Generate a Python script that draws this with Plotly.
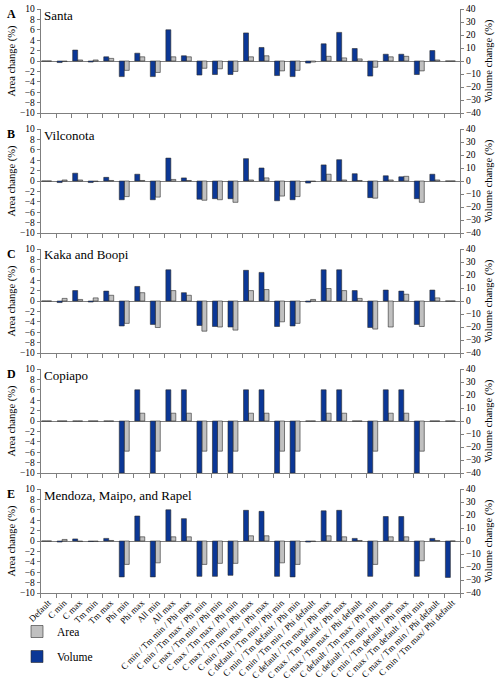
import plotly.graph_objects as go

categories = [
    "Default", "C min", "C max", "Tm min", "Tm max", "Phi min", "Phi max", "All min", "All max",
    "C min / Tm min / Phi max", "C min / Tm max / Phi min", "C max / Tm min / Phi min",
    "C max / Tm max / Phi min", "C max / Tm min / Phi max", "C min / Tm max / Phi max",
    "C default / Tm min / Phi min", "C min / Tm default / Phi min", "C min / Tm min / Phi default",
    "C default / Tm max / Phi max", "C max / Tm default / Phi max", "C max / Tm max / Phi default",
    "C default / Tm max / Phi min", "C default / Tm min / Phi max", "C min / Tm default / Phi max",
    "C max / Tm default / Phi min", "C max / Tm min / Phi default", "C min / Tm max/ Phi default",
]

panel_letters = ["A", "B", "C", "D", "E"]
panel_names = ["Santa", "Vilconota", "Kaka and Boopi", "Copiapo", "Mendoza, Maipo, and Rapel"]

# Area change (%)
area_santa = [0, -0.1, 0.2, 0.2, 0.5, -1.8, 0.8, -2.2, 0.8, 0.8, -1.4, -1.5, -2.0, 0.8, 1.0,
              -1.9, -1.8, -0.2, 0.9, 0.6, 0.4, -1.2, 0.8, 0.9, -1.9, 0.2, 0]
area_vilconota = [0, 0.2, 0.2, -0.1, 0.1, -3.0, 0.1, -3.1, 0.3, 0.1, -3.7, -3.6, -4.1, 0.2, 0.6,
                  -2.9, -3.0, -0.1, 1.3, 0.2, 0.1, -3.3, 0.2, 0.9, -4.1, 0.2, 0]
area_kaka = [0, 0.5, 0.3, 0.6, 1.1, -4.3, 1.6, -5.1, 2.0, 1.1, -5.8, -5.0, -5.6, 2.0, 2.2,
             -4.0, -4.3, 0.3, 2.4, 2.0, 0.5, -5.4, -5.0, 1.3, -4.9, 0.6, 0]
area_copiapo = [0, 0, 0, 0, 0, -5.8, 1.5, -5.8, 1.5, 1.5, -5.8, -5.8, -5.8, 1.5, 1.5,
                -5.8, -5.8, 0, 1.5, 1.5, 0, -5.8, 1.5, 1.5, -5.8, 0, 0]
area_mendoza = [0, 0.3, -0.1, -0.1, 0.1, -4.5, 0.8, -4.2, 0.8, 0.8, -4.5, -4.3, -4.3, 1.0, 1.0,
                -4.2, -4.5, -0.1, 1.0, 0.8, 0.1, -4.5, 0.8, 0.8, -3.8, 0.1, 0]

# Volume change (%)
volume_santa = [0, -1.2, 8.4, -0.8, 3.2, -12, 6, -12, 24, 4, -10.8, -10.4, -10.4, 21.6, 10.4,
                -11.2, -12, -1.6, 13.2, 22, 9.6, -11.6, 5.2, 5.2, -10.4, 8, 0]
volume_vilconota = [0, -1.2, 6, -1.2, 2.8, -14.4, 5.2, -14.4, 17.6, 2.4, -14, -13.6, -13.6, 17.2, 10,
                    -15.2, -14.4, -1.6, 12.4, 16.4, 5.6, -12.8, 4, 3.2, -13.6, 5.2, 0]
volume_kaka = [0, -1.2, 8, -0.8, 7.6, -19.2, 11.2, -18, 24, 6.4, -18.8, -19.6, -20, 23.6, 22,
               -19.6, -19.2, -0.8, 24, 24, 8, -20.4, 8.4, 7.6, -18, 8.4, 0]
volume_copiapo = [0, 0, 0, 0, 0, -40, 24, -40, 24, 24, -40, -40, -40, 24, 24,
                  -40, -40, 0, 24, 24, 0, -40, 24, 24, -40, 0, 0]
volume_mendoza = [0, -0.8, 1.6, -0.4, 2, -27.6, 19.2, -27.6, 24, 17.2, -27.2, -27.2, -26.4, 23.6, 22.8,
                  -27.2, -27.6, -0.8, 23.2, 23.6, 2, -27.2, 18.8, 18.8, -27.2, 2, -28]

area_data = [area_santa, area_vilconota, area_kaka, area_copiapo, area_mendoza]
volume_data = [volume_santa, volume_vilconota, volume_kaka, volume_copiapo, volume_mendoza]

area_ticks = [-10, -8, -6, -4, -2, 0, 2, 4, 6, 8, 10]
volume_ticks = [-40, -30, -20, -10, 0, 10, 20, 30, 40]

# ---- styling / layout ----
W, H = 500, 687
FONT = "Liberation Serif"
AX = "#7f7f7f"
BLUE = "#0b3796"
GREY = "#c0c0c0"
EDGE = "#2b2b2b"
x_left, x_right = 40.7, 460.0
tops = [9, 129, 249, 369, 489]
ph = 104

fig = go.Figure()
layout = dict(
    width=W, height=H,
    margin=dict(l=0, r=0, t=0, b=0, autoexpand=False),
    paper_bgcolor="white", plot_bgcolor="white",
    font=dict(family=FONT, size=10, color="black"),
    barmode="overlay",
    showlegend=True,
    legend=dict(x=17 / W, y=1 - 617 / H, xanchor="left", yanchor="top",
                font=dict(family=FONT, size=11.5), tracegroupgap=6,
                bgcolor="rgba(0,0,0,0)", itemwidth=30),
)
annotations = []

for k in range(5):
    xa = f"x{k + 1}"
    yl = f"y{2 * k + 1}"
    yr = f"y{2 * k + 2}"
    top, bot = tops[k], tops[k] + ph
    dom_y = [1 - bot / H, 1 - top / H]

    fig.add_trace(go.Bar(
        x=categories, y=volume_data[k], xaxis=xa, yaxis=yr, name="Volume",
        marker=dict(color=BLUE, line=dict(color=EDGE, width=0.6)),
        width=0.32, offset=-0.44, legendgroup="vol", legendrank=2, showlegend=(k == 0),
    ))
    fig.add_trace(go.Bar(
        x=categories, y=area_data[k], xaxis=xa, yaxis=yl, name="Area",
        marker=dict(color=GREY, line=dict(color=EDGE, width=0.6)),
        width=0.32, offset=-0.12, legendgroup="area", legendrank=1, showlegend=(k == 0),
    ))

    last = (k == 4)
    layout[f"xaxis{k + 1}"] = dict(
        domain=[x_left / W, x_right / W], anchor=yl, type="category",
        categoryorder="array", categoryarray=categories, range=[-0.5, len(categories) - 0.5],
        tickson="boundaries", ticks="outside", ticklen=4, tickcolor=AX, tickwidth=1,
        showline=True, linecolor=AX, linewidth=1, showgrid=False, zeroline=False,
        showticklabels=last, tickangle=-45, tickfont=dict(family=FONT, size=9),
        automargin=False,
    )
    layout[f"yaxis{2 * k + 1}"] = dict(
        domain=dom_y, anchor=xa, range=[-10, 10], tickvals=area_ticks,
        ticks="outside", ticklen=3, tickcolor=AX, showline=True, linecolor=AX, linewidth=1,
        showgrid=False, zeroline=True, zerolinecolor=AX, zerolinewidth=1,
        tickfont=dict(family=FONT, size=9.5), automargin=False,
        title=dict(text="Area change (%)", font=dict(family=FONT, size=10.5), standoff=2),
    )
    layout[f"yaxis{2 * k + 2}"] = dict(
        domain=dom_y, anchor=xa, overlaying=yl, side="right", range=[-40, 40],
        tickvals=volume_ticks, ticks="outside", ticklen=3, tickcolor=AX,
        showline=True, linecolor=AX, linewidth=1, showgrid=False, zeroline=False,
        tickfont=dict(family=FONT, size=9.5), automargin=False,
        title=dict(text="Volume change (%)", font=dict(family=FONT, size=10.5), standoff=4),
    )
    # tick marks along the zero line
    layout[f"xaxis{k + 6}"] = dict(
        overlaying=xa, anchor="free", position=(dom_y[0] + dom_y[1]) / 2,
        domain=[x_left / W, x_right / W],
        range=[0, len(categories)], tick0=0, dtick=1, ticks="outside", ticklen=3,
        tickcolor=AX, showticklabels=False, showline=False, showgrid=False, zeroline=False,
    )

    annotations.append(dict(
        text=f"<b>{panel_letters[k]}</b>", xref="paper", yref="paper",
        x=5 / W, y=1 - (top + 5) / H, xanchor="left", yanchor="middle", showarrow=False,
        font=dict(family=FONT, size=12, color="black"),
    ))
    annotations.append(dict(
        text=panel_names[k], xref="paper", yref="paper",
        x=(x_left + 1) / W, y=1 - (top + 6) / H, xanchor="left", yanchor="middle", showarrow=False,
        font=dict(family=FONT, size=13, color="black"),
    ))

layout["annotations"] = annotations
fig.update_layout(**layout)
fig.write_html("out.html")
